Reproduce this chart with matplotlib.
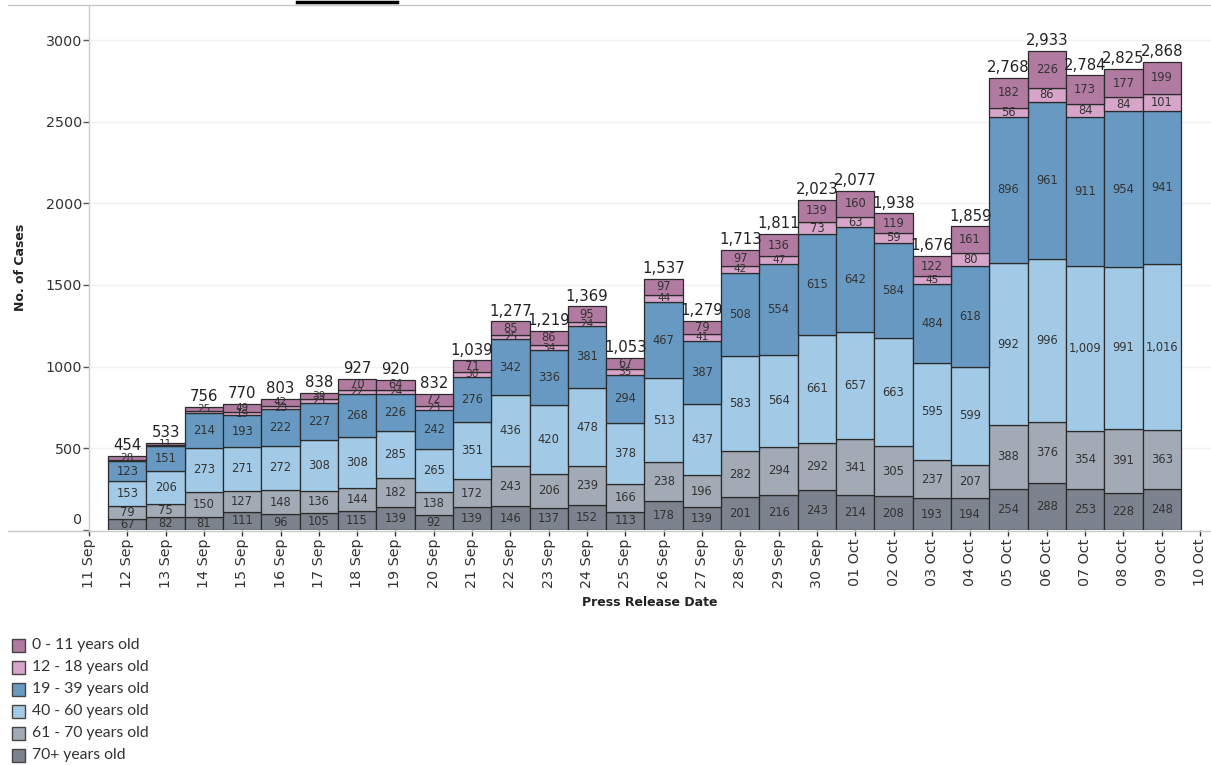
import matplotlib
matplotlib.use("Agg")
import matplotlib.pyplot as plt
from matplotlib.patches import Rectangle
from matplotlib.lines import Line2D
import matplotlib.transforms as mtransforms
import numpy as np

# ---------------- data ----------------
tick_labels = ["11 Sep", "12 Sep", "13 Sep", "14 Sep", "15 Sep", "16 Sep", "17 Sep",
               "18 Sep", "19 Sep", "20 Sep", "21 Sep", "22 Sep", "23 Sep", "24 Sep",
               "25 Sep", "26 Sep", "27 Sep", "28 Sep", "29 Sep", "30 Sep", "01 Oct",
               "02 Oct", "03 Oct", "04 Oct", "05 Oct", "06 Oct", "07 Oct", "08 Oct",
               "09 Oct", "10 Oct"]
bar_dates = tick_labels[1:29]

age_groups = ["0 - 11 years old", "12 - 18 years old", "19 - 39 years old",
              "40 - 60 years old", "61 - 70 years old", "70+ years old"]

age_70_plus = [67, 82, 81, 111, 96, 105, 115, 139, 92, 139, 146, 137, 152, 113,
               178, 139, 201, 216, 243, 214, 208, 193, 194, 254, 288, 253, 228, 248]
age_61_70 = [79, 75, 150, 127, 148, 136, 144, 182, 138, 172, 243, 206, 239, 166,
             238, 196, 282, 294, 292, 341, 305, 237, 207, 388, 376, 354, 391, 363]
age_40_60 = [153, 206, 273, 271, 272, 308, 308, 285, 265, 351, 436, 420, 478, 378,
             513, 437, 583, 564, 661, 657, 663, 595, 599, 992, 996, 1009, 991, 1016]
age_19_39 = [123, 151, 214, 193, 222, 227, 268, 226, 242, 276, 342, 336, 381, 294,
             467, 387, 508, 554, 615, 642, 584, 484, 618, 896, 961, 911, 954, 941]
age_12_18 = [4, 8, 13, 19, 23, 23, 22, 24, 23, 30, 25, 34, 24, 35,
             44, 41, 42, 47, 73, 63, 59, 45, 80, 56, 86, 84, 84, 101]
age_0_11 = [28, 11, 25, 49, 42, 39, 70, 64, 72, 71, 85, 86, 95, 67,
            97, 79, 97, 136, 139, 160, 119, 122, 161, 182, 226, 173, 177, 199]

# stacking order bottom -> top
stack_series = [age_70_plus, age_61_70, age_40_60, age_19_39, age_12_18, age_0_11]
stack_colors = ["#7c838e", "#a2aab5", "#a2cae7", "#6799c2", "#d7a5c9", "#b07aa1"]
legend_colors = ["#b07aa1", "#d7a5c9", "#6799c2", "#a2cae7", "#a2aab5", "#7c838e"]

# ---------------- figure ----------------
W, H = 1211, 765
fig = plt.figure(figsize=(W / 100, H / 100), dpi=100)
ax_left, ax_right = 89 / W, 1.0
ax_bottom, ax_top = 1 - 530 / H, 1 - 5 / H
ax = fig.add_axes([ax_left, ax_bottom, ax_right - ax_left, ax_top - ax_bottom])

x = np.arange(1, len(bar_dates) + 1)
bottoms = np.zeros(len(x))
for vals, col in zip(stack_series, stack_colors):
    v = np.array(vals, dtype=float)
    ax.bar(x, v, width=1.0, bottom=bottoms, color=col, edgecolor="#2b2b2b",
           linewidth=0.9, zorder=3)
    for xi, b, val in zip(x, bottoms, v):
        is_top = vals is age_0_11
        if val >= 15 or is_top:
            fs = 8.3 if val >= 55 else 7.6
            ax.text(xi, b + val / 2, f"{int(val):,}", ha="center", va="center",
                    fontsize=fs, color="#333333", zorder=5)
    bottoms += v

totals = bottoms
for xi, t in zip(x, totals):
    ax.annotate(f"{int(t):,}", (xi, t), xytext=(0, 2), textcoords="offset points",
                ha="center", va="bottom", fontsize=10.7, color="#222222", zorder=6)

ax.set_xlim(0, 29 + 11 / 38.31)
ax.set_ylim(0, 525 / (490 / 3000))

ax.set_xticks(np.arange(len(tick_labels)))
ax.set_xticklabels(tick_labels, rotation=90, fontsize=10.3, color="#333333")
ax.set_yticks([0, 500, 1000, 1500, 2000, 2500, 3000])
ax.set_yticklabels(["0", "500", "1000", "1500", "2000", "2500", "3000"],
                   fontsize=10.3, color="#333333")
ax.tick_params(axis="x", length=4, width=1, color="#333333", pad=2)
ax.tick_params(axis="y", length=4, width=1, color="#555555", pad=1)

ax.yaxis.grid(True, color="#f0f0f0", linewidth=1, zorder=0)
ax.set_axisbelow(True)
for s in ["top", "right", "bottom"]:
    ax.spines[s].set_visible(False)
ax.spines["left"].set_color("#cccccc")
ax.spines["left"].set_linewidth(1)

# shift the "0" label up slightly, like the reference
zero_lbl = ax.get_yticklabels()[0]
zero_lbl.set_transform(zero_lbl.get_transform() +
                       mtransforms.ScaledTranslation(0, 12 / 100, fig.dpi_scale_trans))

ax.set_xlabel("Press Release Date", fontsize=9, fontweight="bold", color="#222222",
              labelpad=6)
ax.set_ylabel("No. of Cases", fontsize=9, fontweight="bold", color="#222222",
              labelpad=13)

# full-width frame lines (top and bottom)
fig.add_artist(Line2D([8 / W, 1.0], [1 - 5 / H, 1 - 5 / H], color="#c8c8c8", lw=1))
fig.add_artist(Line2D([8 / W, 1.0], [1 - 530.5 / H, 1 - 530.5 / H], color="#c8c8c8", lw=1))
# clipped title underline remnant
fig.add_artist(Line2D([297 / W, 397 / W], [1 - 1.5 / H, 1 - 1.5 / H], color="black", lw=2.5))

# legend
for i, (lab, col) in enumerate(zip(age_groups, legend_colors)):
    yc = 645 + 22 * i
    fig.add_artist(Rectangle((12 / W, 1 - (yc + 6.5) / H), 13 / W, 13 / H,
                             facecolor=col, edgecolor="#444444", lw=1,
                             transform=fig.transFigure))
    fig.text(32 / W, 1 - yc / H, lab, fontsize=11.3, family="Lato", color="#333333",
             ha="left", va="center")

fig.savefig("out.png", dpi=100)
